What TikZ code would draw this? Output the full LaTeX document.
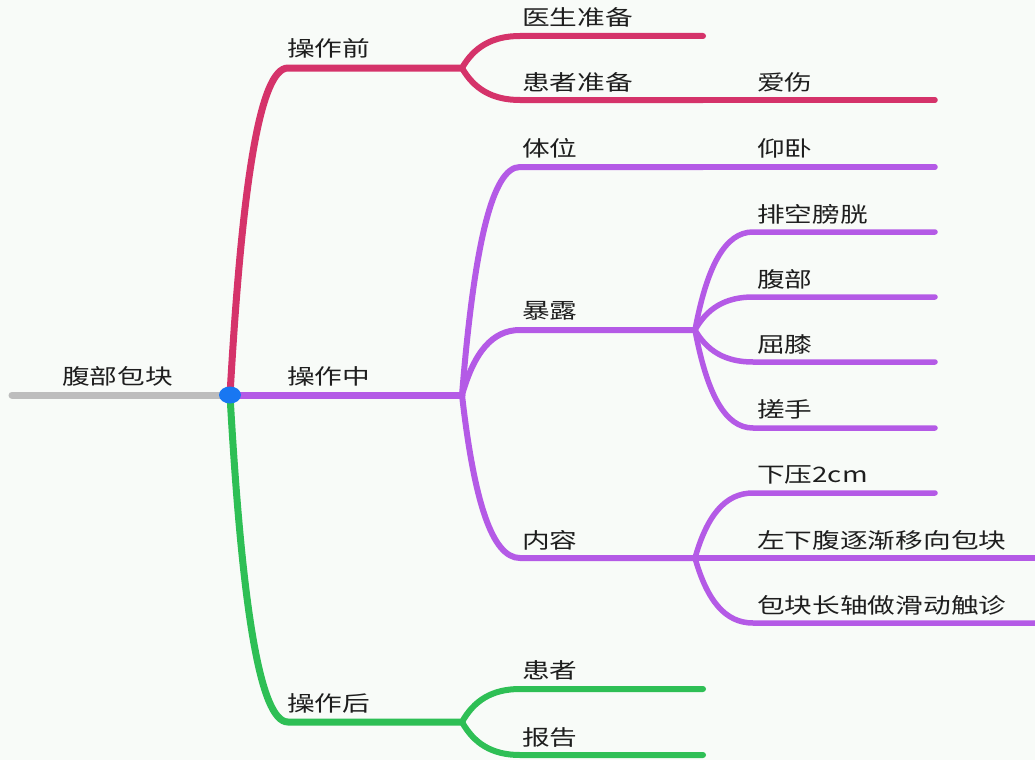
\documentclass[tikz,border=0pt]{standalone}
\usepackage{fontspec}
\newfontfamily\cjk[FakeStretch=1.3]{Noto Sans CJK SC}
\usetikzlibrary{calc}
\definecolor{bgc}{HTML}{F8FBF8}
\definecolor{redb}{HTML}{D5336A}
\definecolor{purb}{HTML}{B45AE6}
\definecolor{grnb}{HTML}{2EBF55}
\definecolor{greyb}{HTML}{BDBDBD}
\definecolor{blued}{HTML}{1877F2}
\definecolor{txt}{HTML}{1E1E1E}
\tikzset{
  lbl/.style={anchor=west, inner sep=0pt, text=txt, font=\cjk\fontsize{21.3}{25}\selectfont},
  mainline/.style={line width=7pt, line cap=round},
  subline/.style={line width=6pt, line cap=round},
  leafline/.style={line width=5.5pt, line cap=round},
  mmbend/.style={to path={let \p1=(\tikztostart), \p2=(\tikztotarget) in
     .. controls (\x1+12pt,{\y2+0.35*(\y1-\y2)}) and (\x1+30pt,\y2) .. (\x1+58pt,\y2) -- (\tikztotarget)}}
}
\begin{document}
\begin{tikzpicture}[x=1pt,y=-1pt]
\useasboundingbox[fill=bgc] (0,0) rectangle (1035,760);
% coordinates
\coordinate (rootL) at (12,395);
\coordinate (c) at (230,395);
\coordinate (pre) at (462,68);
\coordinate (mid) at (462,395);
\coordinate (post) at (462,722);
\coordinate (pre1) at (703,36);
\coordinate (pre2) at (703,100);
\coordinate (pre21) at (935,100);
\coordinate (tw) at (703,167);
\coordinate (tw1) at (935,167);
\coordinate (bl) at (695,330);
\coordinate (bl1) at (935,232);
\coordinate (bl2) at (935,297);
\coordinate (bl3) at (935,362);
\coordinate (bl4) at (935,428);
\coordinate (nr) at (695,558);
\coordinate (nr1) at (935,493);
\coordinate (nr2) at (1045,558);
\coordinate (nr3) at (1045,623);
\coordinate (post1) at (703,689);
\coordinate (post2) at (703,755);
% root
\draw[mainline, greyb] (rootL) -- (c);
% red branch
\draw[mainline, redb] (c) to[mmbend] (pre);
\draw[subline, redb] (pre) to[mmbend] (pre1);
\draw[subline, redb] (pre) to[mmbend] (pre2);
\draw[leafline, redb] (pre2) -- (pre21);
% purple branch
\draw[mainline, purb] (c) -- (mid);
\draw[subline, purb] (mid) to[mmbend] (tw);
\draw[leafline, purb] (tw) -- (tw1);
\draw[subline, purb] (mid) to[mmbend] (bl);
\draw[subline, purb] (mid) to[mmbend] (nr);
\draw[leafline, purb] (bl) to[mmbend] (bl1);
\draw[leafline, purb] (bl) to[mmbend] (bl2);
\draw[leafline, purb] (bl) to[mmbend] (bl3);
\draw[leafline, purb] (bl) to[mmbend] (bl4);
\draw[leafline, purb] (nr) to[mmbend] (nr1);
\draw[leafline, purb] (nr) -- (nr2);
\draw[leafline, purb] (nr) to[mmbend] (nr3);
% green branch
\draw[mainline, grnb] (c) to[mmbend] (post);
\draw[subline, grnb] (post) to[mmbend] (post1);
\draw[subline, grnb] (post) to[mmbend] (post2);
% centre dot
\fill[blued] (c) ellipse (11 and 8.5);
% labels
\node[lbl] (tRoot) at (62,376) {腹部包块};
\node[lbl] (tPre) at (287,48) {操作前};
\node[lbl] (tMid) at (287,376) {操作中};
\node[lbl] (tPost) at (287,703) {操作后};
\node[lbl] (tPre1) at (522,17) {医生准备};
\node[lbl] (tPre2) at (522,82) {患者准备};
\node[lbl] (tPre21) at (757,82) {爱伤};
\node[lbl] (tTw) at (522,148) {体位};
\node[lbl] (tTw1) at (757,148) {仰卧};
\node[lbl] (tBl) at (522,311) {暴露};
\node[lbl] (tNr) at (522,540) {内容};
\node[lbl] (tBl1) at (757,214) {排空膀胱};
\node[lbl] (tBl2) at (757,279) {腹部};
\node[lbl] (tBl3) at (757,344) {屈膝};
\node[lbl] (tBl4) at (757,409) {搓手};
\node[lbl] (tNr1) at (757,475) {下压2cm};
\node[lbl] (tNr2) at (757,540) {左下腹逐渐移向包块};
\node[lbl] (tNr3) at (757,605) {包块长轴做滑动触诊};
\node[lbl] (tPost1) at (522,670) {患者};
\node[lbl] (tPost2) at (522,737) {报告};
\end{tikzpicture}
\end{document}
